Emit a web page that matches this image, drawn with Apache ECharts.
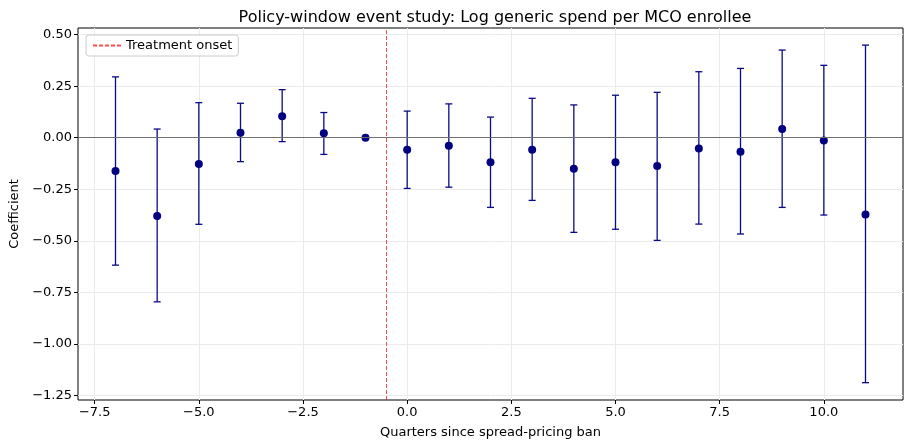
<!DOCTYPE html>
<html>
<head>
<meta charset="utf-8">
<script src="https://cdn.jsdelivr.net/npm/echarts@6/dist/echarts.min.js"></script>
<style>
  html, body { margin: 0; padding: 0; background: #fff; }
  #main { width: 910px; height: 444px; }
</style>
</head>
<body>
<div id="main"></div>
<script>
// quarters relative to the ban
const quarters = [-7, -6, -5, -4, -3, -2, -1, 0, 1, 2, 3, 4, 5, 6, 7, 8, 9, 10, 11];
// point estimates
const coefs = [-0.161, -0.380, -0.127, 0.024, 0.104, 0.021, 0.0, -0.058, -0.039, -0.119, -0.058, -0.150, -0.119, -0.137, -0.052, -0.068, 0.042, -0.014, -0.372];
// 95% CI bounds
const ciLow = [-0.618, -0.796, -0.420, -0.116, -0.019, -0.081, 0.0, -0.246, -0.240, -0.338, -0.304, -0.459, -0.444, -0.498, -0.419, -0.467, -0.338, -0.375, -1.188];
const ciHigh = [0.295, 0.042, 0.170, 0.167, 0.233, 0.122, 0.0, 0.129, 0.164, 0.100, 0.191, 0.159, 0.206, 0.220, 0.320, 0.336, 0.425, 0.351, 0.449];
const xTicks = [-7.5, -5.0, -2.5, 0.0, 2.5, 5.0, 7.5, 10.0];
const yTicks = [-1.25, -1.0, -0.75, -0.5, -0.25, 0.0, 0.25, 0.5];
const onset = -0.5;

const FONT = 'DejaVu Sans';
const minus = (s) => s.replace('-', '\u2212');
const onsetStyle = { color: 'rgba(255,0,0,0.7)', type: [4, 2], width: 1 };

let chart = echarts.init(document.getElementById('main'));

let option = {
    animation: false,
    textStyle: { fontFamily: FONT },
    title: {
        text: 'Policy-window event study: Log generic spend per MCO enrollee',
        left: 490, top: 5, textAlign: 'center',
        textStyle: { fontFamily: FONT, fontSize: 16, fontWeight: 'normal', color: '#000' }
    },
    legend: {
        left: 86, top: 35,
        data: ['Treatment onset'],
        backgroundColor: 'rgba(255,255,255,0.8)',
        borderColor: '#cccccc', borderWidth: 1, borderRadius: 3,
        padding: [4, 6, 4, 6],
        itemWidth: 28, itemHeight: 10, itemGap: 6,
        itemStyle: { color: 'transparent', borderWidth: 0 },
        textStyle: { fontFamily: FONT, fontSize: 13, color: '#000' }
    },
    grid: {
        left: 78, right: 7, top: 28, bottom: 42,
        show: true, borderColor: '#000', borderWidth: 1
    },
    xAxis: {
        type: 'value', min: -7.9, max: 11.9,
        name: 'Quarters since spread-pricing ban',
        nameLocation: 'middle', nameGap: 26,
        nameTextStyle: { fontFamily: FONT, fontSize: 13, color: '#000' },
        axisLine: { show: false, onZero: false },
        axisTick: { show: true, length: 4, customValues: xTicks, lineStyle: { color: '#000' } },
        axisLabel: {
            customValues: xTicks, fontFamily: FONT, fontSize: 13, color: '#000', margin: 6,
            formatter: (v) => minus(v.toFixed(1))
        },
        splitLine: { show: true, lineStyle: { color: '#ebebeb', width: 1 } }
    },
    yAxis: {
        type: 'value', min: -1.272, max: 0.532,
        name: 'Coefficient',
        nameLocation: 'middle', nameGap: 52,
        nameTextStyle: { fontFamily: FONT, fontSize: 13, color: '#000' },
        axisLine: { show: false, onZero: false },
        axisTick: { show: true, length: 4, customValues: yTicks, lineStyle: { color: '#000' } },
        axisLabel: {
            customValues: yTicks, fontFamily: FONT, fontSize: 13, color: '#000', margin: 6,
            formatter: (v) => minus(v.toFixed(2))
        },
        splitLine: { show: true, lineStyle: { color: '#ebebeb', width: 1 } }
    },
    series: [
        {
            // error bars with caps
            type: 'custom',
            name: 'CI',
            data: quarters.map((q, i) => [q, ciLow[i], ciHigh[i]]),
            encode: { x: 0, y: [1, 2] },
            z: 3,
            renderItem: function (params, api) {
                let lo = api.coord([api.value(0), api.value(1)]);
                let hi = api.coord([api.value(0), api.value(2)]);
                let cap = 3.5;
                let style = { stroke: '#0a0a88', lineWidth: 1.3, fill: null };
                return {
                    type: 'group',
                    children: [
                        { type: 'line', shape: { x1: lo[0], y1: lo[1], x2: hi[0], y2: hi[1] }, style: style },
                        { type: 'line', shape: { x1: lo[0] - cap, y1: lo[1], x2: lo[0] + cap, y2: lo[1] }, style: style },
                        { type: 'line', shape: { x1: hi[0] - cap, y1: hi[1], x2: hi[0] + cap, y2: hi[1] }, style: style }
                    ]
                };
            }
        },
        {
            type: 'scatter',
            name: 'Estimate',
            data: quarters.map((q, i) => [q, coefs[i]]),
            symbolSize: 8,
            itemStyle: { color: '#000080', opacity: 1 },
            z: 4,
            markLine: {
                silent: true, symbol: 'none', label: { show: false },
                lineStyle: { color: '#707070', type: 'solid', width: 1 },
                data: [{ yAxis: 0 }]
            }
        },
        {
            type: 'line',
            name: 'Treatment onset',
            data: [],
            symbol: 'none',
            color: 'rgba(255,0,0,0.7)',
            lineStyle: onsetStyle,
            markLine: {
                silent: true, symbol: 'none', label: { show: false },
                lineStyle: onsetStyle,
                data: [{ xAxis: onset, lineStyle: onsetStyle }]
            }
        }
    ]
};

chart.setOption(option);
window.addEventListener('resize', () => {
    chart.resize();
});
</script>
</body>
</html>
